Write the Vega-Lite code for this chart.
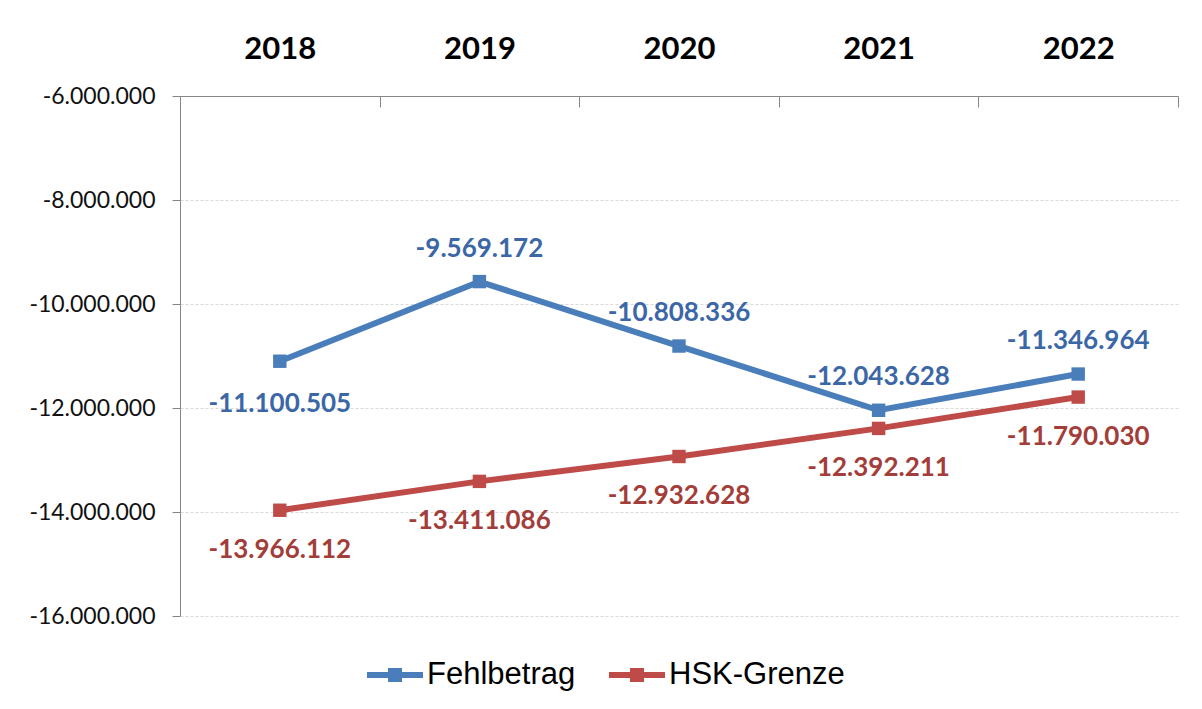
{
  "$schema": "https://vega.github.io/schema/vega-lite/v6.json",
  "width": 998,
  "height": 520,
  "autosize": {"type": "none"},
  "padding": {"left": 180, "top": 96, "right": 24, "bottom": 93},
  "background": "white",
  "config": {
    "locale": {"number": {"decimal": ",", "thousands": ".", "grouping": [3], "currency": ["", " €"], "minus": "-"}},
    "view": {"stroke": null},
    "font": "Lato"
  },
  "data": {
    "values": [
      {"year": "2018", "series": "Fehlbetrag", "value": -11100505},
      {"year": "2019", "series": "Fehlbetrag", "value": -9569172},
      {"year": "2020", "series": "Fehlbetrag", "value": -10808336},
      {"year": "2021", "series": "Fehlbetrag", "value": -12043628},
      {"year": "2022", "series": "Fehlbetrag", "value": -11346964},
      {"year": "2018", "series": "HSK-Grenze", "value": -13966112},
      {"year": "2019", "series": "HSK-Grenze", "value": -13411086},
      {"year": "2020", "series": "HSK-Grenze", "value": -12932628},
      {"year": "2021", "series": "HSK-Grenze", "value": -12392211},
      {"year": "2022", "series": "HSK-Grenze", "value": -11790030}
    ]
  },
  "encoding": {
    "x": {
      "field": "year",
      "type": "ordinal",
      "bandPosition": 0.5,
      "scale": {"type": "band", "paddingInner": 0, "paddingOuter": 0},
      "axis": {
        "orient": "top",
        "title": null,
        "tickBand": "extent",
        "tickSize": -11,
        "tickColor": "#868686",
        "domainColor": "#868686",
        "labelAngle": 0,
        "labelFont": "Lato",
        "labelFontSize": 31,
        "labelFontWeight": "bold",
        "labelColor": "#000000",
        "labelPadding": 42,
        "grid": false
      }
    },
    "y": {
      "field": "value",
      "type": "quantitative",
      "scale": {"domain": [-16000000, -6000000], "nice": false, "zero": false},
      "axis": {
        "title": null,
        "values": [-16000000, -14000000, -12000000, -10000000, -8000000, -6000000],
        "format": ",d",
        "labelFont": "Lato",
        "labelFontSize": 23,
        "labelColor": "#111111",
        "labelPadding": 17,
        "tickSize": 8,
        "tickColor": "#868686",
        "domainColor": "#868686",
        "grid": true,
        "gridColor": "#D9D9D9",
        "gridDash": [3, 2]
      }
    },
    "color": {
      "field": "series",
      "type": "nominal",
      "scale": {"domain": ["Fehlbetrag", "HSK-Grenze"], "range": ["#4A7EBB", "#BE4B48"]},
      "legend": {
        "orient": "none",
        "legendX": 187,
        "legendY": 551,
        "direction": "horizontal",
        "title": null,
        "padding": 0,
        "labelFont": "Liberation Sans",
        "labelFontSize": 31,
        "labelColor": "#000000",
        "labelLimit": 400,
        "labelOffset": 4,
        "columnPadding": 33,
        "symbolType": "M-1,-0.11L1,-0.11L1,0.11L-1,0.11Z M-0.25,-0.25L0.25,-0.25L0.25,0.25L-0.25,0.25Z",
        "symbolSize": 3136,
        "symbolStrokeWidth": 0,
        "symbolOpacity": 1,
        "encode": {"symbols": {"update": {"fill": {"scale": "color", "field": "value"}, "strokeWidth": {"value": 0}}}}
      }
    }
  },
  "layer": [
    {"mark": {"type": "line", "strokeWidth": 6}},
    {"mark": {"type": "point", "shape": "square", "filled": true, "size": 180, "opacity": 1}},
    {
      "transform": [{"filter": "datum.series == 'Fehlbetrag' && datum.year != '2018'"}],
      "mark": {"type": "text", "dy": -33, "fontSize": 26, "fontWeight": "bold", "font": "Lato", "baseline": "middle"},
      "encoding": {"text": {"field": "value", "type": "quantitative", "format": ",d"}, "color": {"value": "#3B67A6"}}
    },
    {
      "transform": [{"filter": "datum.series == 'Fehlbetrag' && datum.year == '2018'"}],
      "mark": {"type": "text", "dy": 43, "fontSize": 26, "fontWeight": "bold", "font": "Lato", "baseline": "middle"},
      "encoding": {"text": {"field": "value", "type": "quantitative", "format": ",d"}, "color": {"value": "#3B67A6"}}
    },
    {
      "transform": [{"filter": "datum.series == 'HSK-Grenze'"}],
      "mark": {"type": "text", "dy": 40, "fontSize": 26, "fontWeight": "bold", "font": "Lato", "baseline": "middle"},
      "encoding": {"text": {"field": "value", "type": "quantitative", "format": ",d"}, "color": {"value": "#A33D3A"}}
    }
  ]
}
